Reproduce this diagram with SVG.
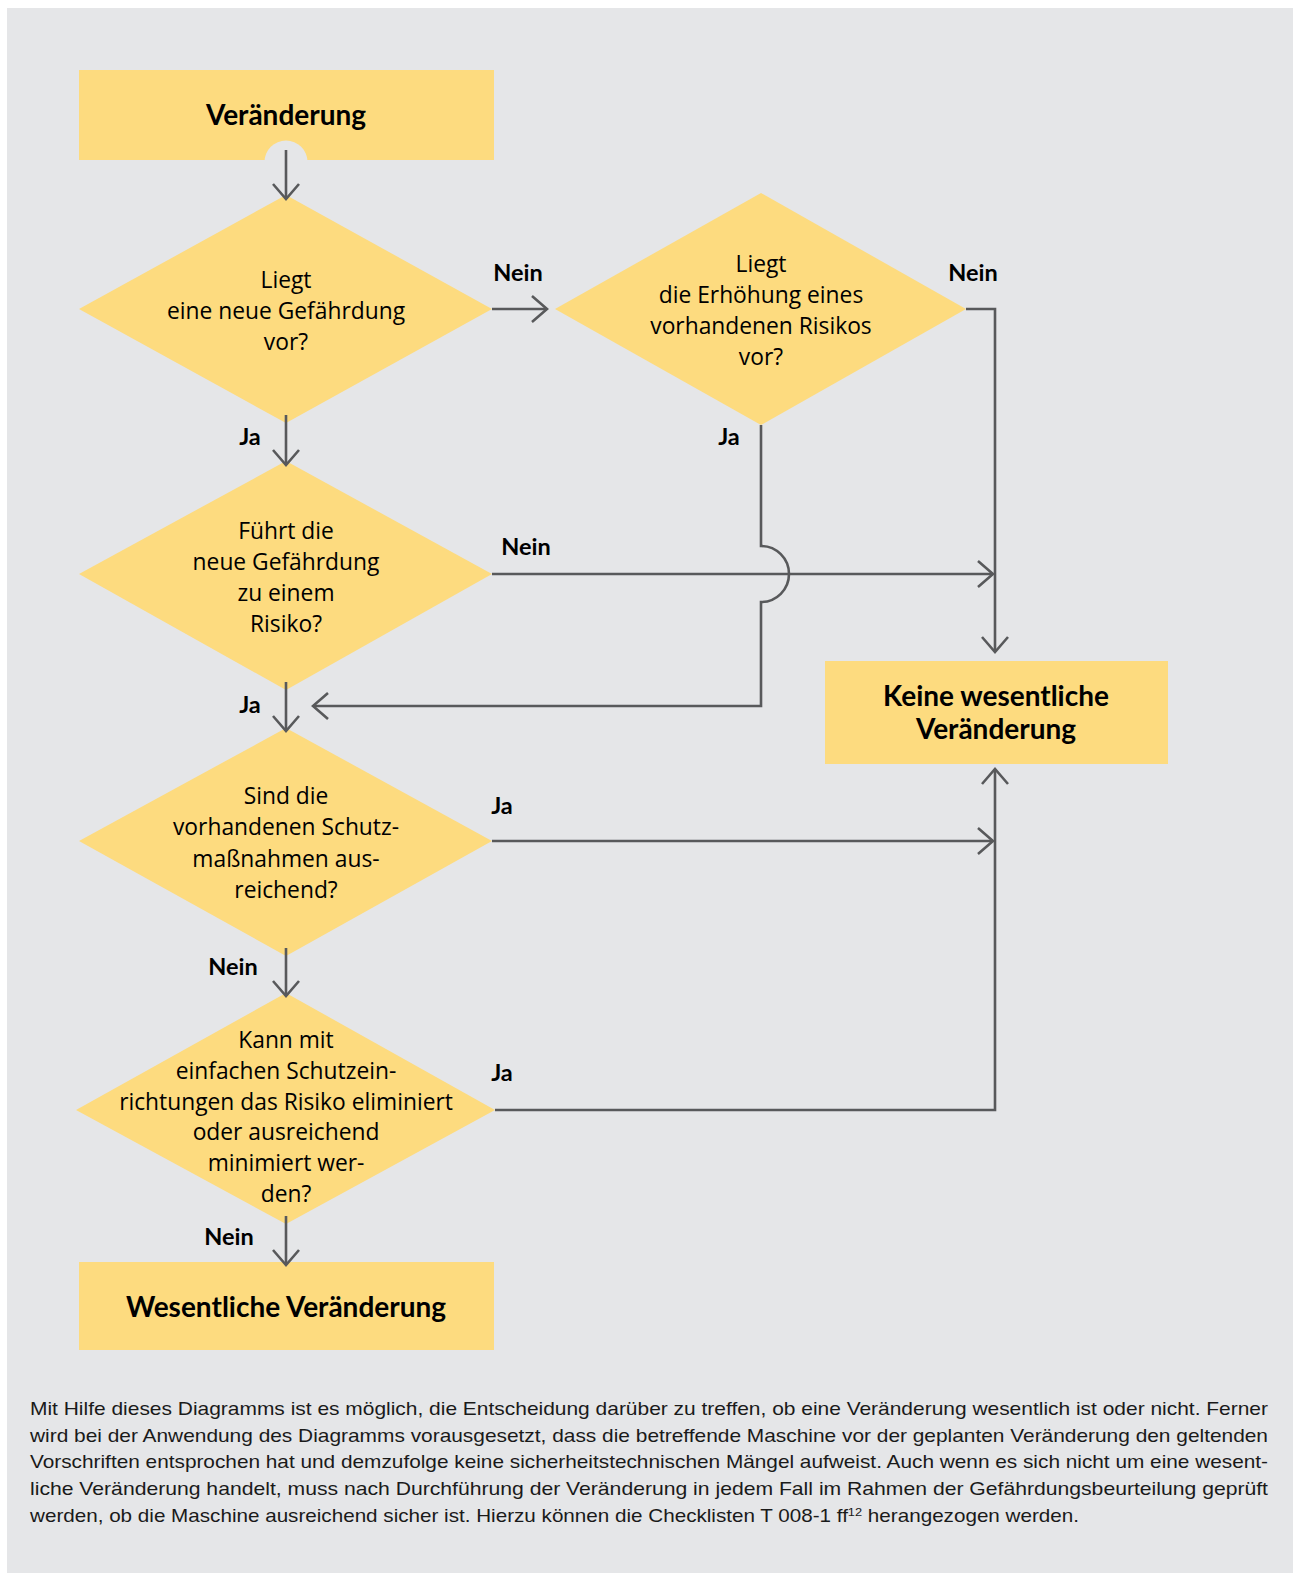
<svg xmlns="http://www.w3.org/2000/svg" width="1293" height="1573" viewBox="0 0 1293 1573">
<style>
.node{fill:#fddb7f}
.q{font-family:"Open Sans","Noto Sans",sans-serif;font-size:22.8px;fill:#000;text-anchor:middle}
.t{font-family:Lato,"Open Sans",sans-serif;font-size:28px;font-weight:bold;fill:#000;text-anchor:middle}
.lbl{font-family:Lato,"Open Sans",sans-serif;font-size:23.5px;font-weight:bold;fill:#000;text-anchor:middle}
.c{fill:none;stroke:#58595b;stroke-width:2.6}
.body{font-family:"Liberation Sans",Arial,sans-serif;font-size:18.5px;fill:#1a1a1a}
</style>
<defs>
<marker id="arr" markerUnits="userSpaceOnUse" markerWidth="40" markerHeight="40" viewBox="-20 -20 40 40" refX="0" refY="0" orient="auto">
<path d="M-15,-13 L0,0 L-15,13" fill="none" stroke="#58595b" stroke-width="2.6"/>
</marker>
</defs>
<rect x="0" y="0" width="1293" height="1573" fill="#ffffff"/>
<rect x="7" y="8" width="1286" height="1565" fill="#e5e6e8"/>

<g id="n-start">
<rect class="node" x="79" y="70" width="415" height="90"/>
<circle cx="286" cy="162" r="21.5" fill="#e5e6e8"/>
<text class="t" x="286" y="125">Veränderung</text>
</g>

<g id="n-q1">
<polygon class="node" points="286,195 492,309 286,423 79,309"/>
<text class="q" x="286" y="288">Liegt</text>
<text class="q" x="286" y="319">eine neue Gefährdung</text>
<text class="q" x="286" y="350">vor?</text>
</g>

<g id="n-q2">
<polygon class="node" points="761,193 966,309 761,425 555,309"/>
<text class="q" x="761" y="272">Liegt</text>
<text class="q" x="761" y="303">die Erhöhung eines</text>
<text class="q" x="761" y="334">vorhandenen Risikos</text>
<text class="q" x="761" y="365">vor?</text>
</g>

<g id="n-q3">
<polygon class="node" points="286,461 492,574 286,690 79,574"/>
<text class="q" x="286" y="539">Führt die</text>
<text class="q" x="286" y="570">neue Gefährdung</text>
<text class="q" x="286" y="601">zu einem</text>
<text class="q" x="286" y="632">Risiko?</text>
</g>

<g id="n-q4">
<polygon class="node" points="286,728 492,841 286,956 79,841"/>
<text class="q" x="286" y="804">Sind die</text>
<text class="q" x="286" y="835">vorhandenen Schutz-</text>
<text class="q" x="286" y="867">maßnahmen aus-</text>
<text class="q" x="286" y="898">reichend?</text>
</g>

<g id="n-q5">
<polygon class="node" points="286,993 495,1110 286,1224 76,1110"/>
<text class="q" x="286" y="1048">Kann mit</text>
<text class="q" x="286" y="1079">einfachen Schutzein-</text>
<text class="q" x="286" y="1110">richtungen das Risiko eliminiert</text>
<text class="q" x="286" y="1140">oder ausreichend</text>
<text class="q" x="286" y="1171">minimiert wer-</text>
<text class="q" x="286" y="1202">den?</text>
</g>

<g id="n-keine">
<rect class="node" x="825" y="661" width="343" height="103"/>
<text class="t" x="996" y="706">Keine wesentliche</text>
<text class="t" x="996" y="739">Veränderung</text>
</g>

<g id="n-wesentlich">
<rect class="node" x="79" y="1262" width="415" height="88"/>
<text class="t" x="286" y="1317">Wesentliche Veränderung</text>
</g>

<g id="connectors">
<path class="c" d="M286,150 V199" marker-end="url(#arr)"/>
<path class="c" d="M286,415 V465" marker-end="url(#arr)"/>
<path class="c" d="M492,309 H547" marker-end="url(#arr)"/>
<path class="c" d="M966,309 H995 V652" marker-end="url(#arr)"/>
<path class="c" d="M761,425 V546 A28,28 0 0 1 761,602 V706 H313" marker-end="url(#arr)"/>
<path class="c" d="M492,574 H993" marker-end="url(#arr)"/>
<path class="c" d="M286,682 V731" marker-end="url(#arr)"/>
<path class="c" d="M492,841 H993" marker-end="url(#arr)"/>
<path class="c" d="M286,948 V996" marker-end="url(#arr)"/>
<path class="c" d="M495,1110 H995 V769" marker-end="url(#arr)"/>
<path class="c" d="M286,1216 V1265" marker-end="url(#arr)"/>
<text class="lbl" x="518" y="281">Nein</text>
<text class="lbl" x="973" y="281">Nein</text>
<text class="lbl" x="250" y="445">Ja</text>
<text class="lbl" x="729" y="445">Ja</text>
<text class="lbl" x="526" y="555">Nein</text>
<text class="lbl" x="250" y="713">Ja</text>
<text class="lbl" x="502" y="814">Ja</text>
<text class="lbl" x="233" y="975">Nein</text>
<text class="lbl" x="502" y="1081">Ja</text>
<text class="lbl" x="229" y="1245">Nein</text>
</g>

<g id="caption">
<text class="body" x="30" y="1415" textLength="1238" lengthAdjust="spacingAndGlyphs">Mit Hilfe dieses Diagramms ist es möglich, die Entscheidung darüber zu treffen, ob eine Veränderung wesentlich ist oder nicht. Ferner</text>
<text class="body" x="30" y="1442" textLength="1238" lengthAdjust="spacingAndGlyphs">wird bei der Anwendung des Diagramms vorausgesetzt, dass die betreffende Maschine vor der geplanten Veränderung den geltenden</text>
<text class="body" x="30" y="1468" textLength="1238" lengthAdjust="spacingAndGlyphs">Vorschriften entsprochen hat und demzufolge keine sicherheitstechnischen Mängel aufweist. Auch wenn es sich nicht um eine wesent-</text>
<text class="body" x="30" y="1495" textLength="1238" lengthAdjust="spacingAndGlyphs">liche Veränderung handelt, muss nach Durchführung der Veränderung in jedem Fall im Rahmen der Gefährdungsbeurteilung geprüft</text>
<text class="body" x="30" y="1522" textLength="1049" lengthAdjust="spacingAndGlyphs">werden, ob die Maschine ausreichend sicher ist. Hierzu können die Checklisten T 008-1 ff<tspan font-size="11.5" dy="-6">12</tspan><tspan dy="6"> herangezogen werden.</tspan></text>
</g>
</svg>
